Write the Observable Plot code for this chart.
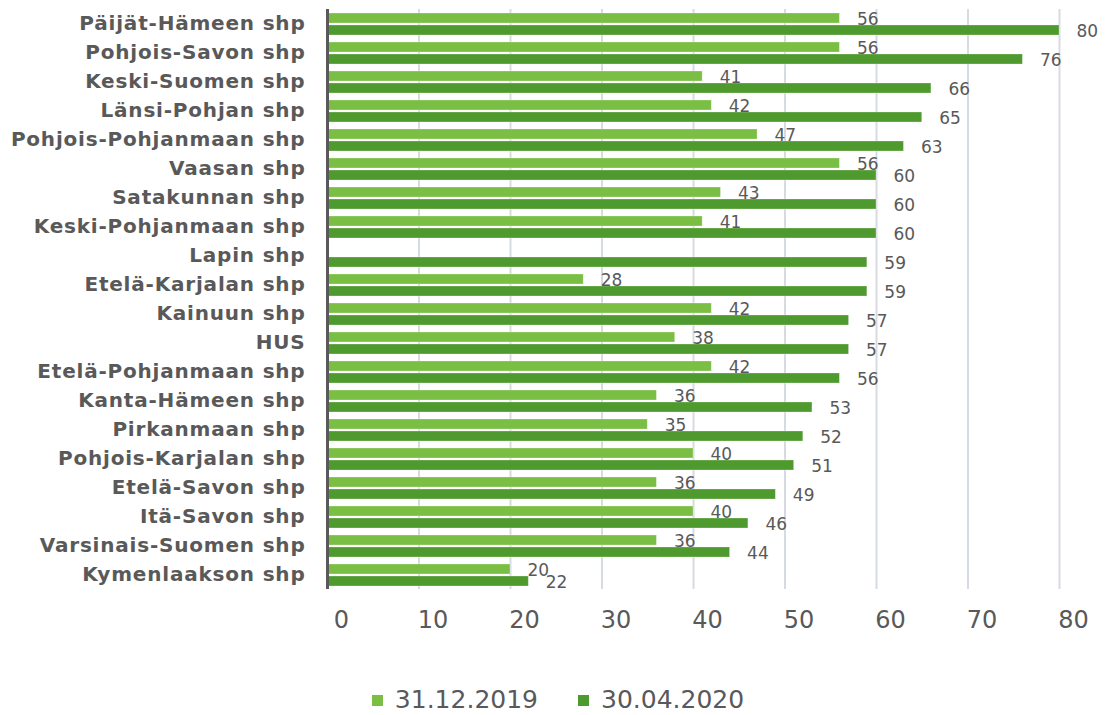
<!DOCTYPE html>
<html>
<head>
<meta charset="utf-8">
<script src="https://cdn.jsdelivr.net/npm/d3@7"></script>
<script src="https://cdn.jsdelivr.net/npm/@observablehq/plot@0.6"></script>
<style>
  html, body { margin: 0; padding: 0; background: #fff; }
  body { width: 1112px; height: 715px; overflow: hidden; font-family: "DejaVu Sans", sans-serif; }
  #legend { display: flex; justify-content: center; align-items: center; gap: 40px; margin-top: 27px; line-height: 26px; font-size: 25px; color: #595959; padding-left: 4px; }
  #legend .item { display: flex; align-items: center; gap: 12px; }
  #legend .sw { width: 11px; height: 11px; display: inline-block; }
  svg g[aria-label="fy-axis tick label"] text { letter-spacing: 0.8px; }
</style>
</head>
<body>
<div id="chart"></div>
<div id="legend"></div>
<script>
const categories = [
  "Päijät-Hämeen shp", "Pohjois-Savon shp", "Keski-Suomen shp", "Länsi-Pohjan shp",
  "Pohjois-Pohjanmaan shp", "Vaasan shp", "Satakunnan shp", "Keski-Pohjanmaan shp",
  "Lapin shp", "Etelä-Karjalan shp", "Kainuun shp", "HUS", "Etelä-Pohjanmaan shp",
  "Kanta-Hämeen shp", "Pirkanmaan shp", "Pohjois-Karjalan shp", "Etelä-Savon shp",
  "Itä-Savon shp", "Varsinais-Suomen shp", "Kymenlaakson shp"
];
const series = ["31.12.2019", "30.04.2020"];
const values2019 = [56, 56, 41, 42, 47, 56, 43, 41, null, 28, 42, 38, 42, 36, 35, 40, 36, 40, 36, 20];
const values2020 = [80, 76, 66, 65, 63, 60, 60, 60, 59, 59, 57, 57, 56, 53, 52, 51, 49, 46, 44, 22];
const xTicks = [0, 10, 20, 30, 40, 50, 60, 70, 80];
const colors = ["#7abe43", "#4f9a2e"];

const table = [];
categories.forEach((c, i) => {
  table.push({category: c, series: series[0], value: values2019[i]});
  table.push({category: c, series: series[1], value: values2020[i]});
});
const present = table.filter(d => d.value != null);

const chart = Plot.plot({
  width: 1112,
  height: 660,
  marginLeft: 327,
  marginRight: 53,
  marginTop: 6,
  marginBottom: 69,
  style: {fontFamily: "DejaVu Sans", background: "#fff"},
  x: {domain: [0, 80]},
  y: {domain: series, paddingInner: 0.2, paddingOuter: 0.3, axis: null},
  fy: {domain: categories, padding: 0},
  color: {domain: series, range: colors},
  marks: [
    Plot.ruleX(xTicks.slice(1), {stroke: "#d6dbe1", strokeWidth: 2}),
    Plot.barX(present, {x: "value", y: "series", fy: "category", fill: "series", stroke: "#ffffff", strokeOpacity: 0.35, strokeWidth: 0.8}),
    Plot.text(present, {x: "value", y: "series", fy: "category", text: d => String(d.value), textAnchor: "start", dx: 17, dy: 1, fontSize: 17, fill: "#595959"}),
    Plot.ruleX([0], {stroke: "#595959", strokeWidth: 3}),
    Plot.axisX({ticks: xTicks, tickSize: 0, tickPadding: 21, dx: 14, fontSize: 24, fill: "#595959", label: null}),
    Plot.axisFy({anchor: "left", tickSize: 0, tickPadding: 22, fontSize: 20, fontWeight: "bold", fill: "#595959", label: null})
  ]
});
document.getElementById("chart").appendChild(chart);

const legend = document.getElementById("legend");
series.forEach((s, i) => {
  const item = document.createElement("div");
  item.className = "item";
  const sw = document.createElement("span");
  sw.className = "sw";
  sw.style.background = colors[i];
  const t = document.createElement("span");
  t.textContent = s;
  item.appendChild(sw);
  item.appendChild(t);
  legend.appendChild(item);
});
</script>
</body>
</html>
